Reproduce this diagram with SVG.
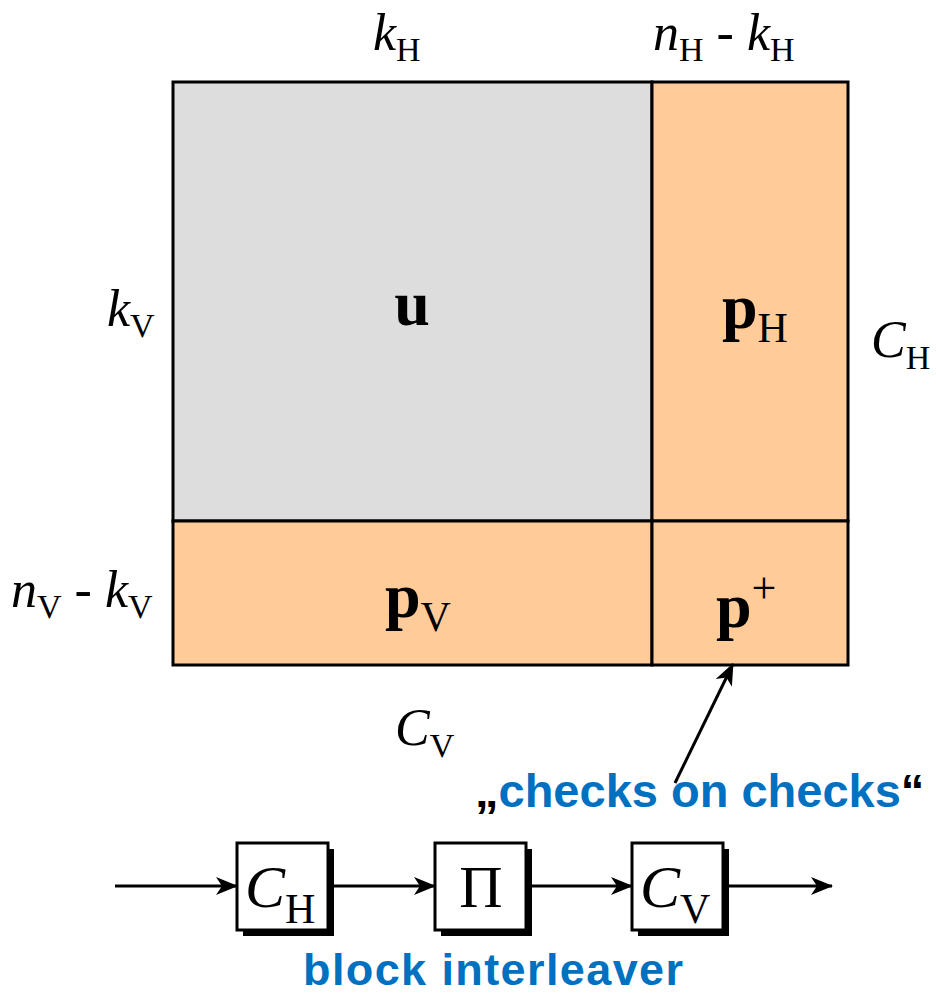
<svg xmlns="http://www.w3.org/2000/svg" width="936" height="995" viewBox="0 0 936 995">
<style>
.m{font-family:"Liberation Serif","Times New Roman",serif;fill:#000}
.it{font-style:italic}
.b{font-weight:bold}
.blue{font-family:"Liberation Sans",Arial,sans-serif;font-weight:bold;fill:#0070C0}
.q{font-family:"Liberation Sans",Arial,sans-serif;font-weight:bold;fill:#000}
.cell{stroke:#000;stroke-width:3}
.ln{stroke:#000;stroke-width:3;fill:none}
.box{fill:#fff;stroke:#000;stroke-width:3}
</style>
<defs>
<marker id="ah" viewBox="0 0 22 18" refX="21" refY="9" markerWidth="22" markerHeight="18" markerUnits="userSpaceOnUse" orient="auto">
<path d="M0,0 L22,9 L0,18 L6,9 Z" fill="#000"/>
</marker>
</defs>
<g id="matrix">
<g id="u"><rect class="cell" x="173" y="82" width="479" height="439" fill="#DDDDDD"/>
<text class="m b" x="412" y="325" font-size="64" text-anchor="middle">u</text></g>
<g id="pH"><rect class="cell" x="652" y="82" width="196" height="439" fill="#FFCC99"/>
<text class="m" x="722" y="328"><tspan class="b" font-size="64">p</tspan><tspan font-size="42" dy="14">H</tspan></text></g>
<g id="pV"><rect class="cell" x="173" y="521" width="479" height="144" fill="#FFCC99"/>
<text class="m" x="385" y="617"><tspan class="b" font-size="64">p</tspan><tspan font-size="42" dy="14">V</tspan></text></g>
<g id="pplus"><rect class="cell" x="652" y="521" width="196" height="144" fill="#FFCC99"/>
<text class="m" x="716" y="627"><tspan class="b" font-size="64">p</tspan><tspan font-size="44" dy="-24">+</tspan></text></g>
</g>
<g id="labels">
<text class="m" x="373" y="50"><tspan class="it" font-size="52">k</tspan><tspan font-size="34" dy="11">H</tspan></text>
<text class="m" x="653" y="50"><tspan class="it" font-size="52">n</tspan><tspan font-size="34" dy="11">H</tspan><tspan font-size="52" dy="-11"> - </tspan><tspan class="it" font-size="52">k</tspan><tspan font-size="34" dy="11">H</tspan></text>
<text class="m" x="107" y="326"><tspan class="it" font-size="52">k</tspan><tspan font-size="34" dy="11">V</tspan></text>
<text class="m" x="871" y="357"><tspan class="it" font-size="52">C</tspan><tspan font-size="34" dy="12">H</tspan></text>
<text class="m" x="11" y="607"><tspan class="it" font-size="52">n</tspan><tspan font-size="34" dy="11">V</tspan><tspan font-size="52" dy="-11"> - </tspan><tspan class="it" font-size="52">k</tspan><tspan font-size="34" dy="11">V</tspan></text>
<text class="m" x="395" y="745"><tspan class="it" font-size="52">C</tspan><tspan font-size="34" dy="12">V</tspan></text>
<text x="475" y="807" font-size="47"><tspan class="q">„</tspan><tspan class="blue">checks on checks</tspan><tspan class="q">“</tspan></text>
<text class="blue" x="303" y="985" font-size="45" textLength="380" lengthAdjust="spacing">block interleaver</text>
</g>
<g id="chain">
<g id="boxCH"><rect x="243" y="849" width="91" height="87" fill="#000"/><rect class="box" x="237" y="843" width="91" height="87"/>
<text class="m" x="245" y="907"><tspan class="it" font-size="60">C</tspan><tspan font-size="42" dy="16">H</tspan></text></g>
<g id="boxPi"><rect x="441" y="849" width="91" height="87" fill="#000"/><rect class="box" x="435" y="843" width="91" height="87"/>
<text class="m" x="481" y="907" font-size="60" text-anchor="middle">Π</text></g>
<g id="boxCV"><rect x="638" y="849" width="91" height="87" fill="#000"/><rect class="box" x="632" y="843" width="91" height="87"/>
<text class="m" x="640" y="907"><tspan class="it" font-size="60">C</tspan><tspan font-size="42" dy="16">V</tspan></text></g>
</g>
<g id="connectors">
<line class="ln" x1="115" y1="886" x2="237" y2="886" marker-end="url(#ah)"/>
<line class="ln" x1="328" y1="886" x2="435" y2="886" marker-end="url(#ah)"/>
<line class="ln" x1="526" y1="886" x2="632" y2="886" marker-end="url(#ah)"/>
<line class="ln" x1="723" y1="886" x2="832" y2="886" marker-end="url(#ah)"/>
<line class="ln" x1="675" y1="783" x2="733" y2="664" marker-end="url(#ah)"/>
</g>
</svg>
